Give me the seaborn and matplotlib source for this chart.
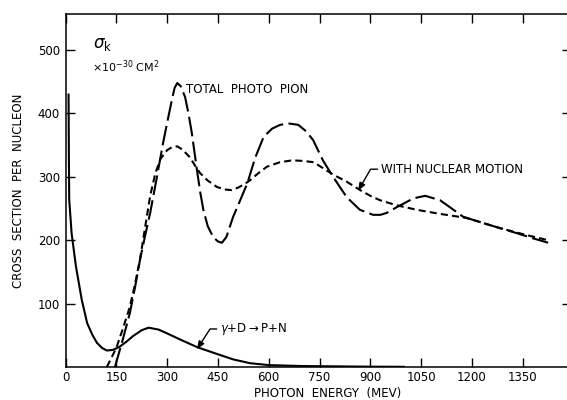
import matplotlib
matplotlib.use("Agg")
import matplotlib.pyplot as plt
import seaborn as sns
import pandas as pd

# gamma + D -> P + N (solid)
deut_e = [9, 10, 11, 18, 31, 48, 64, 80, 93, 108, 122, 140, 160, 180, 200, 225, 245,
          275, 300, 340, 390, 445, 495, 545, 600, 700, 900, 1000]
deut_s = [430, 330, 264, 211, 158, 106, 69, 50, 38, 30, 26, 27, 32, 40, 49, 58, 62,
          59, 53, 43, 31, 21, 12, 6, 3, 1.5, 0.5, 0.3]

# total photo pion (long dash)
tot_e = [146, 170, 190, 205, 220, 235, 250, 270, 288, 300, 314, 322, 330, 340, 353,
         363, 373, 388, 398, 407, 420, 436, 450, 462, 475, 495, 515, 537, 560, 585,
         610, 634, 660, 687, 710, 731, 760, 790, 830, 869, 908, 930, 948, 978, 1027,
         1062, 1106, 1135, 1174, 1233, 1283, 1333, 1380, 1425]
tot_s = [0, 45, 85, 125, 169, 207, 243, 300, 353, 385, 421, 440, 448, 443, 426,
         400, 369, 311, 275, 248, 222, 205, 198, 196, 205, 237, 262, 290, 330, 363,
         376, 382, 384, 382, 372, 358, 326, 300, 268, 248, 240, 240, 243, 252, 266,
         270, 263, 252, 237, 227, 219, 211, 203, 196]

# with nuclear motion (short dash)
nuc_e = [122, 150, 171, 190, 205, 220, 235, 250, 265, 280, 300, 315, 330, 345, 367,
         382, 397, 420, 447, 470, 490, 510, 530, 546, 570, 595, 633, 670, 702, 733,
         762, 792, 831, 870, 900, 929, 978, 1037, 1100, 1185, 1283, 1362, 1425]
nuc_s = [0, 30, 63, 95, 130, 170, 220, 270, 305, 328, 342, 347, 348, 343, 331,
         318, 306, 294, 284, 280, 279, 283, 289, 295, 306, 316, 323, 326, 325, 323,
         313, 303, 292, 279, 270, 263, 255, 248, 242, 235, 219, 208, 200]

x_ticks = [0, 150, 300, 450, 600, 750, 900, 1050, 1200, 1350]
y_ticks = [100, 200, 300, 400, 500]

sns.set_style("ticks")
plt.rcParams['font.family'] = ['DejaVu Sans']
for k in ["text.color", "axes.labelcolor", "xtick.color", "ytick.color", "axes.edgecolor"]:
    plt.rcParams[k] = "black"

fig = plt.figure(figsize=(5.67, 4.0), dpi=100)
L, R, B, T = 65.5, 571, 367, 14
ax = fig.add_axes([L / 567, (400 - B) / 400, (R - L) / 567, (B - T) / 400])

df_d = pd.DataFrame({"e": deut_e, "s": deut_s})
df_t = pd.DataFrame({"e": tot_e, "s": tot_s})
df_n = pd.DataFrame({"e": nuc_e, "s": nuc_s})

sns.lineplot(data=df_d, x="e", y="s", ax=ax, color="black", lw=1.5, sort=False)
sns.lineplot(data=df_t, x="e", y="s", ax=ax, color="black", lw=1.5, sort=False,
             dashes=False).lines[-1].set_dashes((9.5, 2.6))
sns.lineplot(data=df_n, x="e", y="s", ax=ax, color="black", lw=1.5, sort=False,
             dashes=False).lines[-1].set_dashes((3.4, 2.0))

ax.set_xlim(0, (R - L) / 0.3387)
ax.set_ylim(0, (B - T) / 0.634)
ax.set_xticks(x_ticks)
ax.set_xticklabels([str(v) for v in x_ticks])
ax.set_yticks(y_ticks)
ax.set_yticklabels([str(v) for v in y_ticks])
ax.tick_params(direction="in", length=6.5, width=1.0, top=True, right=True,
               labelsize=8.5, colors="black", pad=4)
ax.tick_params(axis="x", pad=3)
for s in ax.spines.values():
    s.set_linewidth(1.1)
    s.set_color("black")
ax.set_xlabel("")
ax.set_ylabel("")

fs = 8.5
ax.text(-0.092, 0.5, "CROSS  SECTION  PER  NUCLEON", transform=ax.transAxes,
        rotation=90, ha="center", va="center", fontsize=fs)
ax.text((328 - L) / (R - L), (B - 393) / (B - T), "PHOTON  ENERGY  (MEV)",
        transform=ax.transAxes, ha="center", va="center", fontsize=fs)

ax.text(82, 509, r"$\sigma_{\mathrm{k}}$", ha="left", va="center", fontsize=12)
ax.text(78, 473, r"$\times10^{-30}$ CM$^2$", ha="left", va="center", fontsize=8)
ax.text(356, 438, "TOTAL  PHOTO  PION", ha="left", va="center", fontsize=fs)

arrow = dict(arrowstyle="-|>,head_length=0.55,head_width=0.22", color="black",
             lw=1.0, shrinkA=0, shrinkB=0, relpos=(0, 0.5),
             connectionstyle="angle,angleA=180,angleB=60,rad=0")
ax.annotate("WITH NUCLEAR MOTION", xy=(864, 278), xytext=(931, 312),
            ha="left", va="center", fontsize=fs, arrowprops=arrow)
arrow2 = dict(arrow)
arrow2["connectionstyle"] = "angle,angleA=180,angleB=57,rad=0"
ax.annotate(r"$\gamma$+D$\rightarrow$P+N", xy=(388, 28), xytext=(456, 60),
            ha="left", va="center", fontsize=fs, arrowprops=arrow2)

fig.savefig("out.png", dpi=100)
